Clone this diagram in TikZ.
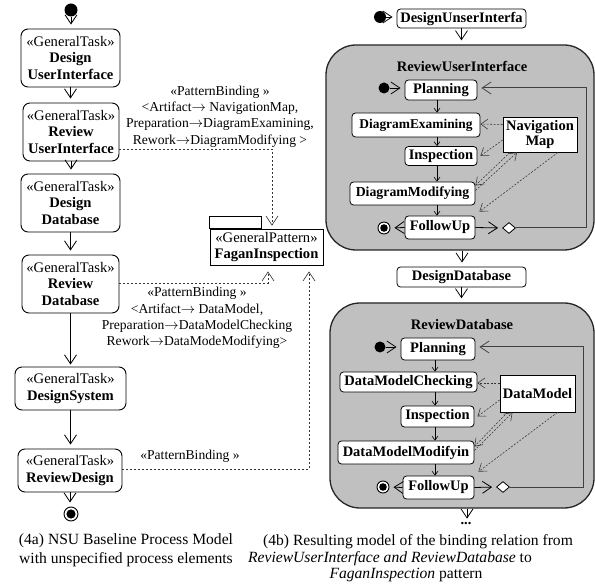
\documentclass[tikz,border=0pt]{standalone}
\usepackage{fontspec}
\setmainfont{Liberation Serif}
\usetikzlibrary{arrows.meta,shapes.geometric}
\definecolor{boxgray}{RGB}{192,192,192}
\begin{document}
\begin{tikzpicture}[x=1pt,y=-1pt,
  task/.style={draw,fill=white,rounded corners=7pt,line width=0.9pt,align=center,inner sep=0pt,font=\fontsize{14.6}{16.5}\selectfont},
  rtask/.style={draw,fill=white,rounded corners=3.5pt,line width=0.8pt,inner sep=0pt,font=\fontsize{14.5}{15}\selectfont\bfseries},
  art/.style={draw,fill=white,line width=0.8pt,inner sep=0pt,align=center,font=\fontsize{14.5}{15.5}\selectfont\bfseries},
  bigbox/.style={draw=black!85,fill=boxgray,rounded corners=30pt,line width=1.3pt,inner sep=0pt},
  initdot/.style={circle,fill=black,inner sep=0pt,minimum size=#1},
  finalnode/.style={circle,draw,fill=white,line width=0.9pt,inner sep=0pt,minimum size=#1},
  uarr/.style={line width=0.8pt,-{Straight Barb[length=9pt,width=12pt,line width=0.8pt]},shorten >=4pt},
  sarr/.style={line width=0.6pt,-{Straight Barb[length=4pt,width=6pt,line width=0.6pt]}},
  dep/.style={draw=black!80,line width=0.6pt,dash pattern=on 2pt off 2pt,-{Straight Barb[length=9pt,width=12pt,line width=0.6pt]}},
  dep2/.style={draw=black!80,line width=0.55pt,dash pattern=on 2pt off 1.5pt,-{Straight Barb[length=7pt,width=10pt,line width=0.55pt]}},
  loopline/.style={draw=black!75,line width=1pt},
  lbl/.style={align=center,inner sep=0pt,font=\fontsize{13.6}{16.4}\selectfont},
  captxt/.style={inner sep=0pt,font=\fontsize{15.6}{18}\selectfont},
  ttl/.style={inner sep=0pt,font=\fontsize{14.5}{15}\selectfont\bfseries}
]
\fill[white] (0,0) rectangle (595,588);
\useasboundingbox (0,0) rectangle (595,588);

% ---------------- left: baseline process model
\node[initdot=13] (li) at (71,10) {};
\node[task,minimum width=99,minimum height=58] (t1) at (70.5,58) {«GeneralTask»\\\textbf{Design}\\\textbf{UserInterface}};
\node[task,minimum width=96,minimum height=58] (t2) at (71,132) {«GeneralTask»\\\textbf{Review}\\\textbf{UserInterface}};
\node[task,minimum width=99,minimum height=58] (t3) at (70.5,203) {«GeneralTask»\\\textbf{Design}\\\textbf{Database}};
\node[task,minimum width=97,minimum height=58] (t4) at (70.5,284) {«GeneralTask»\\\textbf{Review}\\\textbf{Database}};
\node[task,minimum width=111,minimum height=43] (t5) at (70.5,388.5) {«GeneralTask»\\\textbf{DesignSystem}};
\node[task,minimum width=104,minimum height=43] (t6) at (70,470.5) {«GeneralTask»\\\textbf{ReviewDesign}};
\node[finalnode=14] (lf) at (71,514) {};
\fill (lf.center) circle (4.6pt);

\draw[uarr] (li.south) -- (li.south |- t1.north);
\draw[uarr] (t1.south) -- (t1.south |- t2.north);
\draw[uarr] (t2.south) -- (t2.south |- t3.north);
\draw[uarr] (t3.south) -- (t3.south |- t4.north);
\draw[uarr,shorten >=2pt] (t4.south) -- (t4.south |- t5.north);
\draw[uarr] (t5.south) -- (t5.south |- t6.north);
\draw[uarr] (t6.south) -- (t6.south |- lf.north);

% pattern
\node[draw,line width=0.9pt,fill=white,minimum width=113,minimum height=36,align=center,inner sep=0pt,font=\fontsize{14.6}{16}\selectfont] (fg) at (266.5,247) {«GeneralPattern»\\\textbf{FaganInspection}};
\draw[line width=0.9pt] (fg.north west) rectangle ++(52,-12);

\coordinate (b1) at (272,149);
\draw[dep,shorten >=3pt] (t2.east |- b1) -- (b1) -- (b1 |- fg.north);
\coordinate (b2) at (268,283);
\draw[dep,shorten >=6pt] (t4.east |- b2) -- (b2) -- (b2 |- fg.south);
\coordinate (b3) at (309,469);
\draw[dep,shorten >=6pt] (t6.east |- b3) -- (b3) -- (b3 |- fg.south);

\node[lbl] (l1) at (220,116.5) {«PatternBinding »\\<Artifact$\rightarrow$ NavigationMap,\\Preparation$\rightarrow$DiagramExamining,\\Rework$\rightarrow$DiagramModifying >};
\node[lbl] (l2) at (197,318) {«PatternBinding »\\<Artifact$\rightarrow$ DataModel,\\Preparation$\rightarrow$DataModelChecking\\Rework$\rightarrow$DataModeModifying>};
\node[lbl] (l3) at (190,456) {«PatternBinding »};

% ---------------- right: resulting model
\coordinate (v1) at (462,0);
\coordinate (v2) at (467,0);
\node[initdot=12] (ri) at (380,17) {};
\node[rtask,minimum width=129,minimum height=19] (dui) at (461.5,18.5) {DesignUnserInterfa};
\draw[uarr] (ri.east) -- (ri.east -| dui.west);

\node[bigbox,minimum width=268,minimum height=205] (rui) at (460,147.5) {};
\draw[uarr] (dui.south) -- (dui.south |- rui.north);
\node[ttl] (ruit) at (462,66) {ReviewUserInterface};

\node[initdot=11] (ri1) at (384,88) {};
\node[rtask,minimum width=72,minimum height=20] (pl1) at (441,90) {Planning};
\node[rtask,minimum width=128,minimum height=24,font=\fontsize{13.4}{14}\selectfont\bfseries] (de1) at (416,125) {DiagramExamining};
\node[rtask,minimum width=72,minimum height=19] (ins1) at (441,156) {Inspection};
\node[rtask,minimum width=125,minimum height=23,font=\fontsize{13.8}{14}\selectfont\bfseries] (dm1) at (412.5,193.5) {DiagramModifying};
\node[rtask,minimum width=70,minimum height=23] (fu1) at (440,227.5) {FollowUp};
\node[art,minimum width=74,minimum height=35] (nm) at (540,134.5) {Navigation\\Map};
\node[finalnode=12] (fin1) at (384,228) {};
\fill (fin1.center) circle (3.8pt);
\node[diamond,draw,fill=white,line width=0.8pt,inner sep=0pt,minimum width=13,minimum height=11] (dia1) at (509,228) {};

\draw[uarr] (ri1.east) -- (ri1.east -| pl1.west);
\coordinate (ax1) at (437,0);
\draw[sarr] (ax1 |- pl1.south) -- (ax1 |- de1.north);
\draw[sarr] (ax1 |- de1.south) -- (ax1 |- ins1.north);
\draw[sarr] (ax1 |- ins1.south) -- (ax1 |- dm1.north);
\draw[sarr] (ax1 |- dm1.south) -- (ax1 |- fu1.north);
\draw[uarr] (fu1.west) -- (fin1.east);
\draw[uarr] (fu1.east) -- (dia1.west);
\coordinate (lp1) at (586,88);
\draw[uarr,loopline] (dia1.east) -| (lp1) -- (lp1 -| pl1.east);

\draw[dep2] ([yshift=10pt]nm.west) -- ([yshift=1pt]de1.east);
\draw[dep2] ([yshift=-5.5pt]nm.west) -- ([xshift=3pt]ins1.east);
\draw[dep2] ([xshift=-30pt]nm.south) -- ([yshift=8pt]dm1.east);
\draw[dep2] ([yshift=3pt]dm1.east) -- ([xshift=-23pt]nm.south);
\draw[dep2] ([xshift=18pt]nm.south) -- ([xshift=4pt,yshift=4pt]fu1.north east);

\node[rtask,minimum width=129,minimum height=20] (dd) at (461.5,277) {DesignDatabase};
\draw[uarr] (v1 |- rui.south) -- (v1 |- dd.north);

\node[bigbox,minimum width=264,minimum height=205] (rdb) at (462,405.5) {};
\draw[uarr] (dd.south) -- (dd.south |- rdb.north);
\node[ttl] (rdbt) at (462,325) {ReviewDatabase};

\node[initdot=11] (ri2) at (380,347) {};
\node[rtask,minimum width=74,minimum height=22] (pl2) at (438,349) {Planning};
\node[rtask,minimum width=137,minimum height=20] (dmc) at (408.5,382) {DataModelChecking};
\node[rtask,minimum width=73,minimum height=21] (ins2) at (437.5,416.5) {Inspection};
\node[rtask,minimum width=136,minimum height=23] (dmm) at (406,452.5) {DataModelModifyin};
\node[rtask,minimum width=71,minimum height=23] (fu2) at (438.5,487.5) {FollowUp};
\node[art,minimum width=75,minimum height=37] (dmd) at (537.5,393.5) {DataModel};
\node[finalnode=12] (fin2) at (383,487) {};
\fill (fin2.center) circle (3.8pt);
\node[diamond,draw,fill=white,line width=0.8pt,inner sep=0pt,minimum width=13,minimum height=11] (dia2) at (503,487) {};

\draw[uarr] (ri2.east) -- (ri2.east -| pl2.west);
\coordinate (ax2) at (435,0);
\draw[sarr] (ax2 |- pl2.south) -- (ax2 |- dmc.north);
\draw[sarr] (ax2 |- dmc.south) -- (ax2 |- ins2.north);
\draw[sarr] (ax2 |- ins2.south) -- (ax2 |- dmm.north);
\draw[sarr] (ax2 |- dmm.south) -- (ax2 |- fu2.north);
\draw[uarr] (fu2.west) -- (fin2.east);
\draw[uarr] (fu2.east) -- (dia2.west);
\coordinate (lp2) at (583,347);
\draw[uarr,loopline] (dia2.east) -| (lp2) -- (lp2 -| pl2.east);

\draw[dep2] ([yshift=10.5pt]dmd.west) -- ([yshift=-1pt]dmc.east);
\draw[dep2] ([yshift=-6.5pt]dmd.west) -- ([xshift=3pt]ins2.east);
\draw[dep2] ([xshift=-30pt]dmd.south) -- ([yshift=6pt]dmm.east);
\draw[dep2] ([yshift=2pt]dmm.east) -- ([xshift=-25pt]dmd.south);
\draw[dep2] ([xshift=20pt]dmd.south) -- ([xshift=4pt,yshift=4pt]fu2.north east);

\node[inner sep=0pt,font=\fontsize{14.5}{15}\selectfont\bfseries] (dots) at (466,524) {...};
\draw[uarr] (v2 |- rdb.south) -- (v2 |- dots.north);

% captions
\node[captxt] (c4a1) at (126,541) {(4a) NSU Baseline Process Model};
\node[captxt] (c4a2) at (126,560) {with unspecified process elements};
\node[captxt] (c4b1) at (418,542) {(4b) Resulting model of the binding relation from};
\node[captxt] (c4b2) at (390,558.5) {\textit{ReviewUserInterface and ReviewDatabase} to};
\node[captxt] (c4b3) at (406,575) {\textit{FaganInspection} pattern};
\end{tikzpicture}
\end{document}
